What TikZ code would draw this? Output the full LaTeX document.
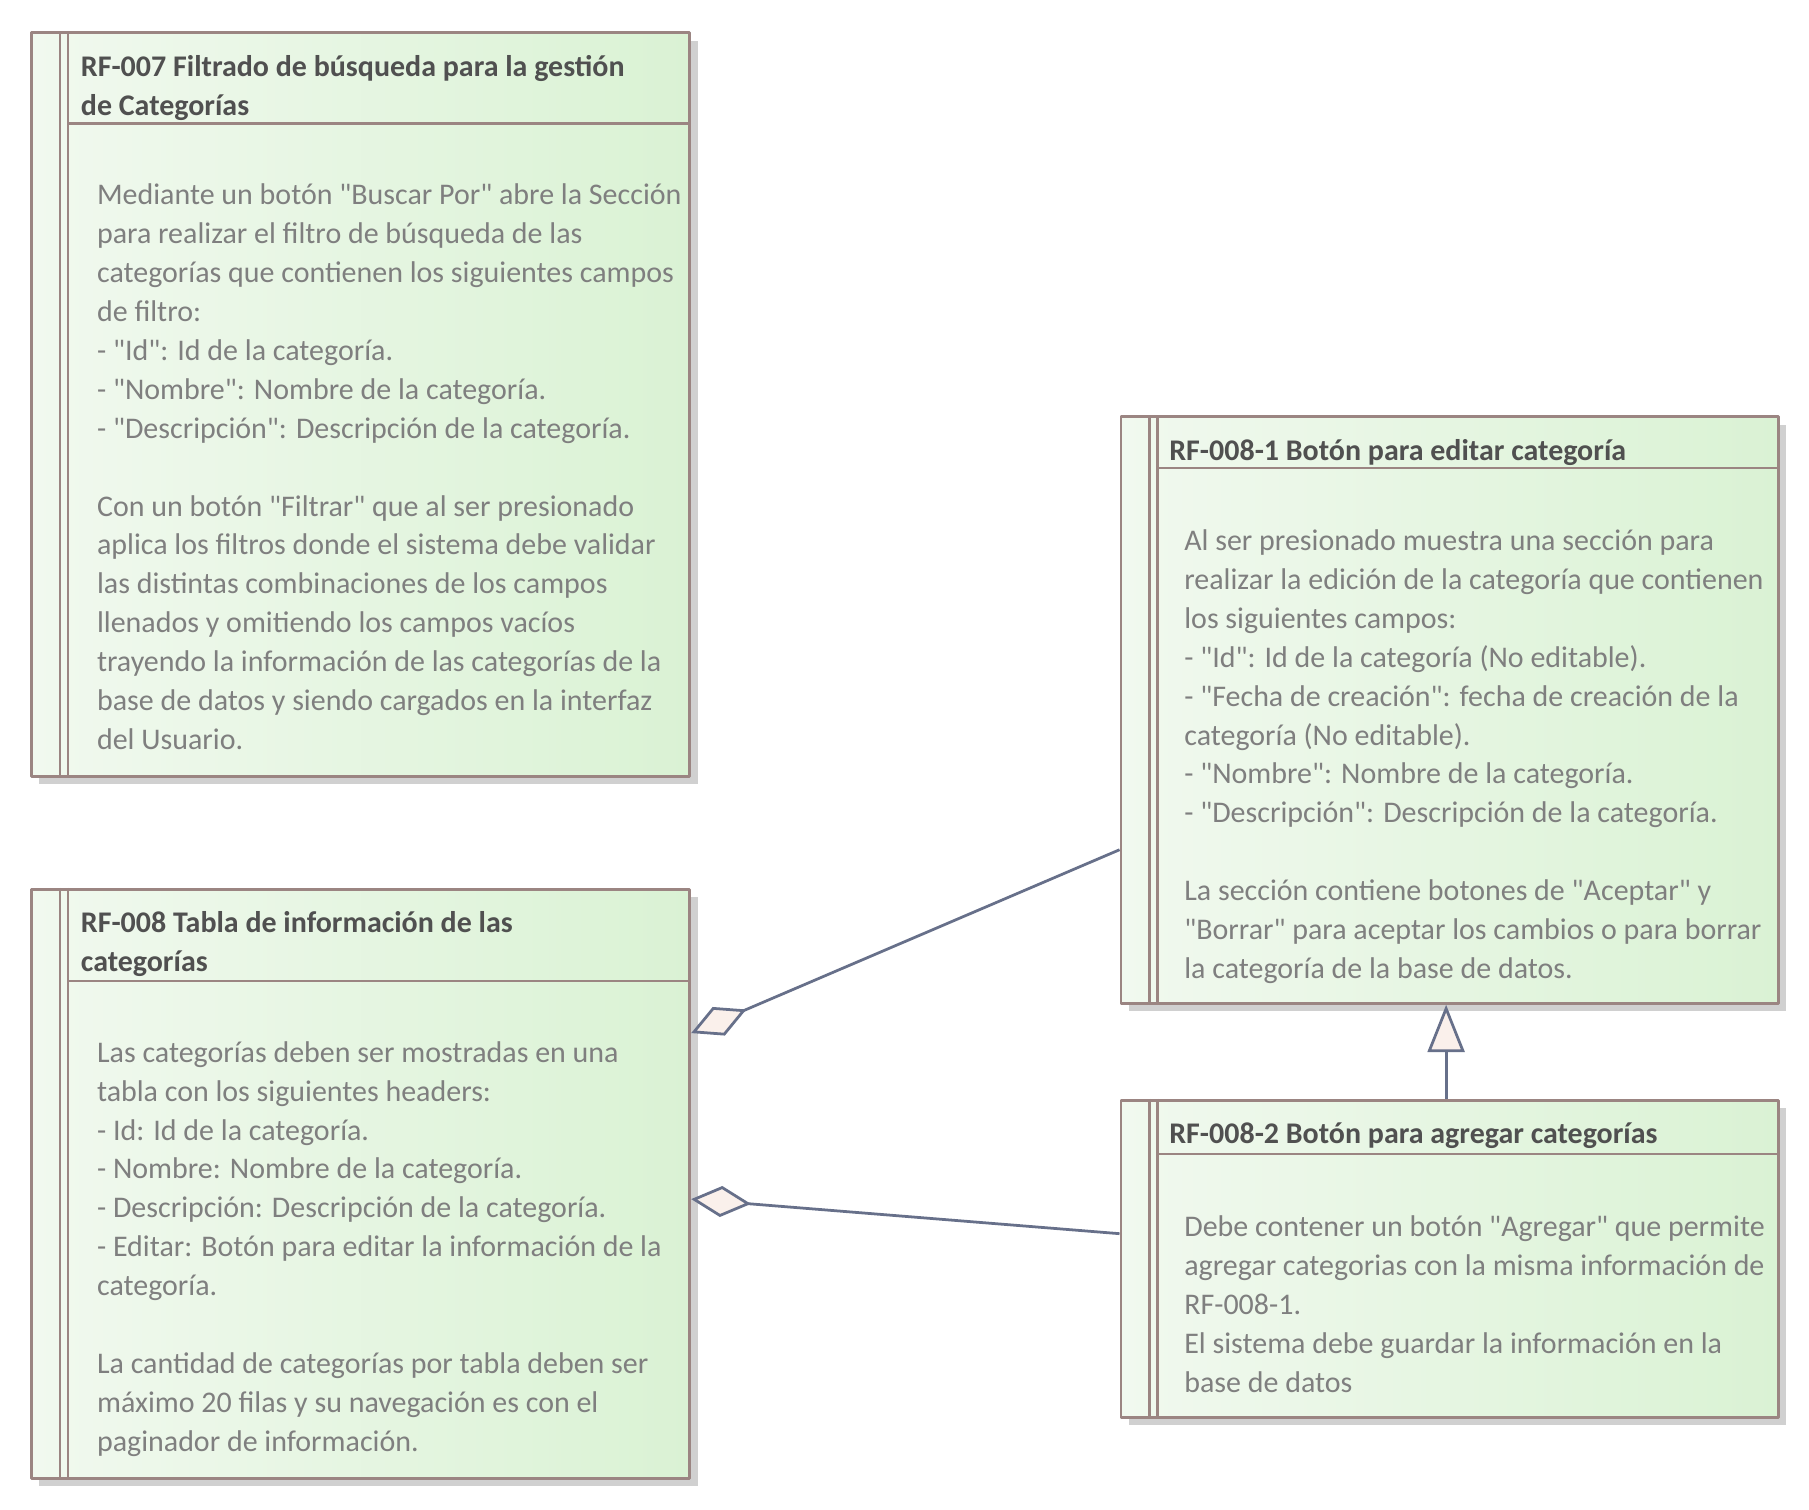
\documentclass[tikz,border=0pt]{standalone}
\usepackage{fontspec}
\setmainfont{Carlito}[Ligatures=TeXOff]
\usetikzlibrary{calc,arrows.meta,shadows}
\definecolor{boxline}{HTML}{9B8582}
\definecolor{boxleft}{HTML}{F1F9EF}
\definecolor{boxright}{HTML}{DAF2D4}
\definecolor{shadowgray}{HTML}{D0D0D0}
\definecolor{linkcol}{HTML}{67708A}
\definecolor{diafill}{HTML}{FAF0EB}
\definecolor{titletext}{HTML}{505050}
\definecolor{bodytext}{HTML}{7F7F7F}
\begin{document}
\begin{tikzpicture}[x=1pt,y=-1pt,line join=round,
    req/.style={rectangle,draw=boxline,line width=2.5pt,anchor=north west,inner sep=0pt,
        left color=boxleft,right color=boxright,
        drop shadow={shadow xshift=7pt,shadow yshift=-7pt,fill=shadowgray,opacity=1}},
    inner line/.style={draw=boxline,line width=2pt},
    title style/.style={anchor=north west,inner sep=0pt,align=left,text=titletext,
        font=\fontsize{26}{33.8}\selectfont\bfseries},
    body style/.style={anchor=north west,inner sep=0pt,align=left,text=bodytext,
        font=\fontsize{26}{33.8}\selectfont},
    link/.style={draw=linkcol,line width=2.4pt}]
    \useasboundingbox (0,0) rectangle (1569,1309);
    \tikzset{agg/.style={{Diamond[length=52pt,width=27pt,fill=diafill]}-}}

    % requirement boxes
    \node[req,minimum width=571pt,minimum height=645pt] (rf007) at (26,27) {};
    \node[req,minimum width=571pt,minimum height=511pt] (rf008) at (26,770) {};
    \node[req,minimum width=570pt,minimum height=509pt] (rf0081) at (971,360) {};
    \node[req,minimum width=570pt,minimum height=275pt] (rf0082) at (971,953) {};

    % left bands and header lines
    \draw[inner line] ($(rf007.north west)+(26,0)$) -- ($(rf007.south west)+(26,0)$);
    \draw[inner line] ($(rf007.north west)+(33,0)$) -- ($(rf007.south west)+(33,0)$);
    \draw[inner line] ($(rf007.north west)+(33,80)$) -- ($(rf007.north east)+(0,80)$);
    \draw[inner line] ($(rf008.north west)+(26,0)$) -- ($(rf008.south west)+(26,0)$);
    \draw[inner line] ($(rf008.north west)+(33,0)$) -- ($(rf008.south west)+(33,0)$);
    \draw[inner line] ($(rf008.north west)+(33,81)$) -- ($(rf008.north east)+(0,81)$);
    \draw[inner line] ($(rf0081.north west)+(26,0)$) -- ($(rf0081.south west)+(26,0)$);
    \draw[inner line] ($(rf0081.north west)+(33,0)$) -- ($(rf0081.south west)+(33,0)$);
    \draw[inner line] ($(rf0081.north west)+(33,46)$) -- ($(rf0081.north east)+(0,46)$);
    \draw[inner line] ($(rf0082.north west)+(26,0)$) -- ($(rf0082.south west)+(26,0)$);
    \draw[inner line] ($(rf0082.north west)+(33,0)$) -- ($(rf0082.south west)+(33,0)$);
    \draw[inner line] ($(rf0082.north west)+(33,48)$) -- ($(rf0082.north east)+(0,48)$);

    % titles
    \node[title style] (rf007t) at ($(rf007.north west)+(44,15.3)$)
        {\strut RF-007 Filtrado de búsqueda para la gestión\\de Categorías};
    \node[title style] (rf008t) at ($(rf008.north west)+(44,15.3)$)
        {\strut RF-008 Tabla de información de las\\categorías};
    \node[title style] (rf0081t) at ($(rf0081.north west)+(43,15.3)$)
        {\strut RF-008-1 Botón para editar categoría};
    \node[title style] (rf0082t) at ($(rf0082.north west)+(43,15.3)$)
        {\strut RF-008-2 Botón para agregar categorías};

    % descriptions
    \node[body style] (rf007b) at ($(rf007.north west)+(58,126.3)$)
        {\strut Mediante un botón "Buscar Por" abre la Sección\\
        para realizar el filtro de búsqueda de las\\
        categorías que contienen los siguientes campos\\
        de filtro:\\
        - "Id": Id de la categoría.\\
        - "Nombre": Nombre de la categoría.\\
        - "Descripción": Descripción de la categoría.\\[33.8pt]
        Con un botón "Filtrar" que al ser presionado\\
        aplica los filtros donde el sistema debe validar\\
        las distintas combinaciones de los campos\\
        llenados y omitiendo los campos vacíos\\
        trayendo la información de las categorías de la\\
        base de datos y siendo cargados en la interfaz\\
        del Usuario.};
    \node[body style] (rf008b) at ($(rf008.north west)+(58,127.3)$)
        {\strut Las categorías deben ser mostradas en una\\
        tabla con los siguientes headers:\\
        - Id: Id de la categoría.\\
        - Nombre: Nombre de la categoría.\\
        - Descripción: Descripción de la categoría.\\
        - Editar: Botón para editar la información de la\\
        categoría.\\[33.8pt]
        La cantidad de categorías por tabla deben ser\\
        máximo 20 filas y su navegación es con el\\
        paginador de información.};
    \node[body style] (rf0081b) at ($(rf0081.north west)+(56,93.3)$)
        {\strut Al ser presionado muestra una sección para\\
        realizar la edición de la categoría que contienen\\
        los siguientes campos:\\
        - "Id": Id de la categoría (No editable).\\
        - "Fecha de creación": fecha de creación de la\\
        categoría (No editable).\\
        - "Nombre": Nombre de la categoría.\\
        - "Descripción": Descripción de la categoría.\\[33.8pt]
        La sección contiene botones de "Aceptar" y\\
        "Borrar" para aceptar los cambios o para borrar\\
        la categoría de la base de datos.};
    \node[body style] (rf0082b) at ($(rf0082.north west)+(56,95.3)$)
        {\strut Debe contener un botón "Agregar" que permite\\
        agregar categorias con la misma información de\\
        RF-008-1.\\
        El sistema debe guardar la información en la\\
        base de datos};

    % relations
    \draw[link,agg] ($(rf008.north east)+(0,126)$) -- ($(rf0081.north west)+(0,377)$);
    \draw[link,agg] ($(rf008.north east)+(0,270)$) -- ($(rf0082.north west)+(0,117)$);
    \draw[link,-{Triangle[length=41pt,width=32pt,fill=diafill]}] ($(rf0082.north)+(-3,0)$) -- ($(rf0081.south)+(-3,0)$);
\end{tikzpicture}
\end{document}
